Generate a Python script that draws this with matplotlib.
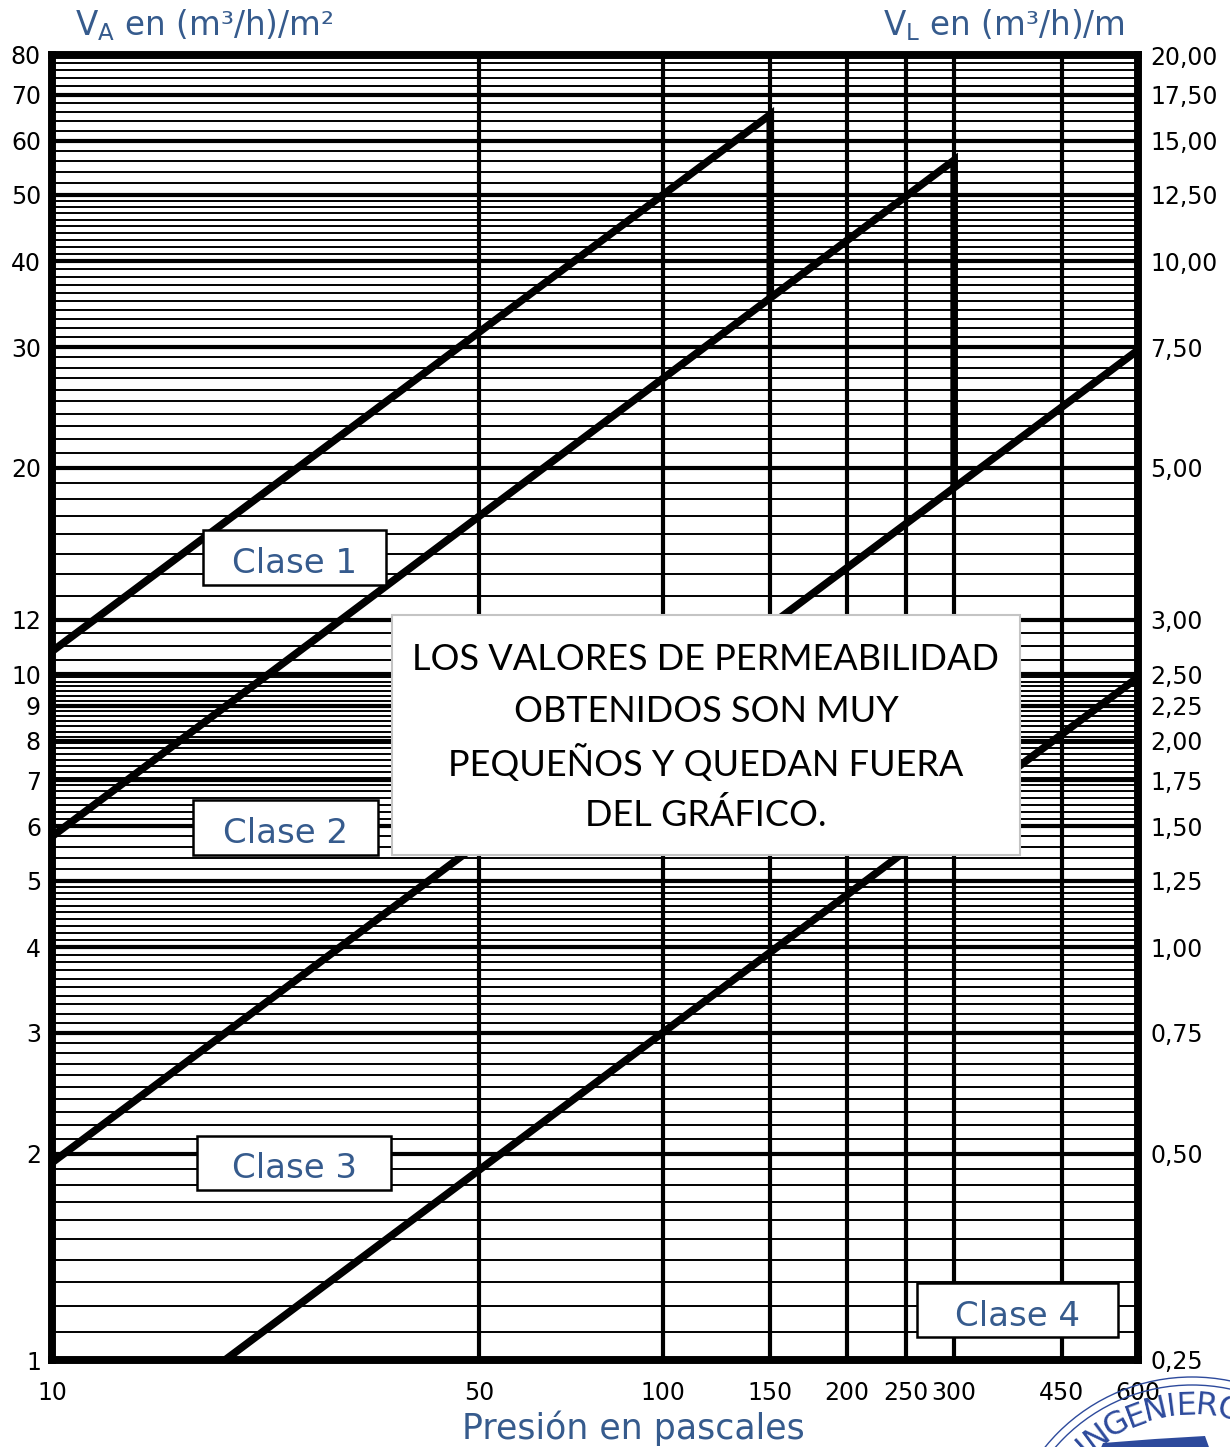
import numpy as np
import matplotlib.pyplot as plt
from matplotlib.patches import Rectangle, Circle, Polygon

# extremos de las rectas de cada clase: presión (Pa) y V_A ((m3/h)/m2)
clase1_p = [10, 150, 150]
clase1_v = [10.8, 65.5, 35.4]
clase2_p = [10, 300, 300]
clase2_v = [5.8, 56.2, 18.7]
clase3_p = [10, 600]
clase3_v = [1.94, 29.7]
clase4_p = [19.2, 600]
clase4_v = [1.0, 9.9]

x_ticks = [10, 50, 100, 150, 200, 250, 300, 450, 600]
y_ticks = [1, 2, 3, 4, 5, 6, 7, 8, 9, 10, 12, 20, 30, 40, 50, 60, 70, 80]
yr_ticks = [0.25, 0.5, 0.75, 1.0, 1.25, 1.5, 1.75, 2.0, 2.25, 2.5, 3.0,
            5.0, 7.5, 10.0, 12.5, 15.0, 17.5, 20.0]
yr_labels = ['0,25', '0,50', '0,75', '1,00', '1,25', '1,50', '1,75', '2,00',
             '2,25', '2,50', '3,00', '5,00', '7,50', '10,00', '12,50',
             '15,00', '17,50', '20,00']

# rejilla horizontal fina: (desde, hasta, paso)
tramos_rejilla = [(1, 5, 0.1), (5, 6, 0.2), (6, 10, 0.15), (10, 12, 0.5),
                  (12, 50, 1), (50, 80, 2)]
rejilla_vertical = [50, 100, 150, 200, 250, 300, 450]

AZUL = '#365b8d'
W, H = 1230, 1447

fig = plt.figure(figsize=(W / 100, H / 100), dpi=100)
ax = fig.add_axes([52 / W, 87 / H, 1086 / W, 1305 / H])
ax.set_xscale('log')
ax.set_yscale('log')
ax.set_xlim(10, 600)
ax.set_ylim(1, 80)

finas = []
for a, b, paso in tramos_rejilla:
    finas.extend(np.arange(a + paso, b - paso / 2, paso))
ax.hlines(finas, 10, 600, color='black', lw=1.4, zorder=1)
ax.hlines(y_ticks[1:-1], 10, 600, color='black', lw=3, zorder=1)
ax.vlines(rejilla_vertical, 1, 80, color='black', lw=3, zorder=1)

for p, v in [(clase1_p, clase1_v), (clase2_p, clase2_v),
             (clase3_p, clase3_v), (clase4_p, clase4_v)]:
    ax.plot(p, v, color='black', lw=5.5, solid_capstyle='butt',
            solid_joinstyle='miter', zorder=3)

ax.minorticks_off()
ax.set_xticks(x_ticks)
ax.set_xticklabels([str(t) for t in x_ticks])
ax.set_yticks(y_ticks)
ax.set_yticklabels([str(t) for t in y_ticks])
ax.tick_params(axis='both', length=0, labelsize=17)
ax.tick_params(axis='x', pad=15)
ax.tick_params(axis='y', pad=8)
for s in ax.spines.values():
    s.set_linewidth(5.5)
    s.set_zorder(5)

ax2 = ax.twinx()
ax2.set_yscale('log')
ax2.set_ylim(0.25, 20)
ax2.minorticks_off()
ax2.set_yticks(yr_ticks)
ax2.set_yticklabels(yr_labels)
ax2.tick_params(axis='y', length=0, labelsize=17, pad=9)
for s in ax2.spines.values():
    s.set_linewidth(5.5)

# capa superior en píxeles para títulos, cuadros y sello
ov = fig.add_axes([0, 0, 1, 1], zorder=10)
ov.set_xlim(0, W)
ov.set_ylim(H, 0)
ov.axis('off')

ov.text(75, 25, r'V$_\mathregular{A}$ en (m³/h)/m²', color=AZUL, fontsize=23.5,
        ha='left', va='center')
ov.text(1125, 25, r'V$_\mathregular{L}$ en (m³/h)/m', color=AZUL, fontsize=23.5,
        ha='right', va='center')
ov.text(633, 1428, 'Presión en pascales', color=AZUL, fontsize=25,
        ha='center', va='center')

cuadros = [('Clase 1', 203, 530, 183, 55), ('Clase 2', 193, 800, 185, 55),
           ('Clase 3', 197, 1136, 194, 54), ('Clase 4', 917, 1283, 201, 54)]
for txt, x0, y0, w, h in cuadros:
    ov.add_patch(Rectangle((x0, y0), w, h, facecolor='white',
                           edgecolor='black', lw=1.8))
    ov.text(x0 + w / 2, y0 + h / 2 + 6, txt, color=AZUL, fontsize=24.5,
            ha='center', va='center')

ov.add_patch(Rectangle((392, 615), 628, 240, facecolor='white',
                       edgecolor='#c4c4c4', lw=1.5))
aviso = ['LOS VALORES DE PERMEABILIDAD', 'OBTENIDOS SON MUY',
         'PEQUEÑOS Y QUEDAN FUERA', 'DEL GRÁFICO.']
for i, linea in enumerate(aviso):
    ov.text(706, 659 + 52 * i, linea, color='black', fontsize=26,
            family='Lato', ha='center', va='center')

# sello: letras repartidas según su anchura a lo largo del arco
cx, cy = 1192, 1566
ov.add_patch(Circle((cx, cy), 189, fill=False, edgecolor='#2d4a9c', lw=1))
ov.add_patch(Circle((cx, cy), 181, fill=False, edgecolor='#2d4a9c', lw=1))
anchos = {'I': 3.6, 'N': 8.0, 'G': 8.4, 'E': 7.0, 'R': 7.6, 'O': 8.6}
ang = -44.0
for letra in 'INGENIERO':
    ang += anchos[letra] / 2
    a = np.radians(ang)
    r = 160
    ov.text(cx + r * np.sin(a), cy - r * np.cos(a), letra,
            color='#2d4a9c', fontsize=23, ha='center', va='center',
            rotation=-ang, clip_on=False)
    ang += anchos[letra] / 2
ov.add_patch(Polygon([(1100, 1450), (1103, 1443), (1155, 1439),
                      (1205, 1436), (1210, 1450)], closed=True,
                     facecolor='#2d4a9c', edgecolor='none'))

fig.savefig('out.png', dpi=100)
